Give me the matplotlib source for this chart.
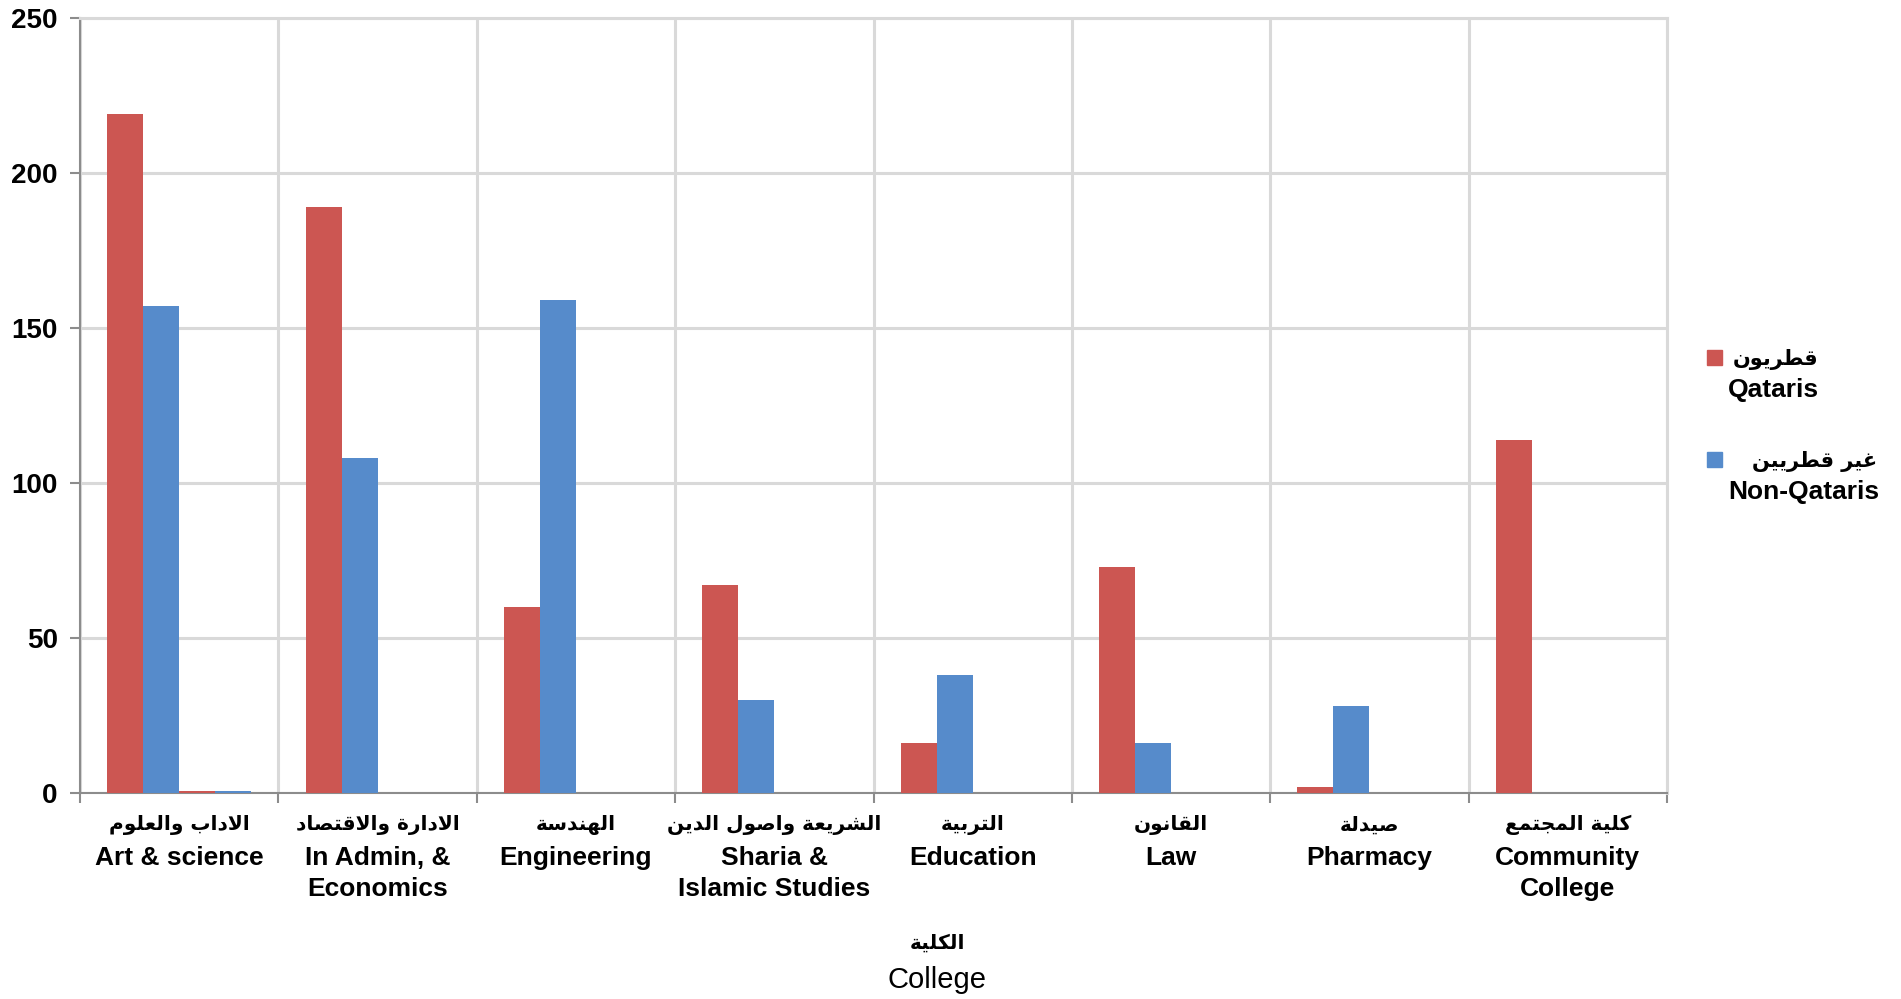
import numpy as np
import matplotlib
matplotlib.use("Agg")
import matplotlib.pyplot as plt
from matplotlib.patches import Rectangle

# data
colleges_ar = ["الاداب والعلوم", "الادارة والاقتصاد", "الهندسة", "الشريعة واصول الدين",
               "التربية", "القانون", "صيدلة", "كلية المجتمع"]
colleges_en = ["Art & science", "In Admin, &\nEconomics", "Engineering", "Sharia &\nIslamic Studies",
               "Education", "Law", "Pharmacy", "Community\nCollege"]
qataris = [219, 189, 60, 67, 16, 73, 2, 114]
non_qataris = [157, 108, 159, 30, 38, 16, 28, 0]
# two extra series that are not in the legend (almost empty)
extra_q = [0.5, 0, 0, 0, 0, 0, 0, 0]
extra_nq = [0.5, 0, 0, 0, 0, 0, 0, 0]
legend_ar = ["قطريون", "غير قطريين"]
legend_en = ["Qataris", "Non-Qataris"]
yticks = [0, 50, 100, 150, 200, 250]

RED = "#cc5652"
BLUE = "#568bcb"
GRID = "#d9d9d9"
AXIS = "#8c8c8c"

# matplotlib has no arabic shaping, so map letters to presentation forms by hand
# (isolated, final, initial, medial)
FORMS = {
    'ا': (0xFE8D, 0xFE8E, None, None),
    'ب': (0xFE8F, 0xFE90, 0xFE91, 0xFE92),
    'ة': (0xFE93, 0xFE94, None, None),
    'ت': (0xFE95, 0xFE96, 0xFE97, 0xFE98),
    'ج': (0xFE9D, 0xFE9E, 0xFE9F, 0xFEA0),
    'د': (0xFEA9, 0xFEAA, None, None),
    'ر': (0xFEAD, 0xFEAE, None, None),
    'س': (0xFEB1, 0xFEB2, 0xFEB3, 0xFEB4),
    'ش': (0xFEB5, 0xFEB6, 0xFEB7, 0xFEB8),
    'ص': (0xFEB9, 0xFEBA, 0xFEBB, 0xFEBC),
    'ط': (0xFEC1, 0xFEC2, 0xFEC3, 0xFEC4),
    'ع': (0xFEC9, 0xFECA, 0xFECB, 0xFECC),
    'غ': (0xFECD, 0xFECE, 0xFECF, 0xFED0),
    'ق': (0xFED5, 0xFED6, 0xFED7, 0xFED8),
    'ك': (0xFED9, 0xFEDA, 0xFEDB, 0xFEDC),
    'ل': (0xFEDD, 0xFEDE, 0xFEDF, 0xFEE0),
    'م': (0xFEE1, 0xFEE2, 0xFEE3, 0xFEE4),
    'ن': (0xFEE5, 0xFEE6, 0xFEE7, 0xFEE8),
    'ه': (0xFEE9, 0xFEEA, 0xFEEB, 0xFEEC),
    'و': (0xFEED, 0xFEEE, None, None),
    'ي': (0xFEF1, 0xFEF2, 0xFEF3, 0xFEF4),
}


def joins_next(c):
    return c in FORMS and FORMS[c][2] is not None


def shape(text):
    out = []
    n = len(text)
    i = 0
    while i < n:
        c = text[i]
        if c not in FORMS:
            out.append(c)
            i += 1
            continue
        link_prev = i > 0 and joins_next(text[i - 1])
        if c == 'ل' and i + 1 < n and text[i + 1] == 'ا':
            out.append(chr(0xFEFC if link_prev else 0xFEFB))
            i += 2
            continue
        link_next = joins_next(c) and i + 1 < n and text[i + 1] in FORMS
        iso, fin, ini, med = FORMS[c]
        if link_prev and link_next:
            g = med
        elif link_prev:
            g = fin
        elif link_next:
            g = ini
        else:
            g = iso
        out.append(chr(g))
        i += 1
    return "".join(reversed(out))


AR_FONT = ["DejaVu Sans"]
EN_FONT = ["Liberation Sans", "DejaVu Sans"]

W, H = 1901, 999
fig = plt.figure(figsize=(W / 100, H / 100), dpi=100)
ax = fig.add_axes([80 / W, 1 - 793 / H, (1667 - 80) / W, (793 - 18) / H])

x = np.arange(len(colleges_en))
w = 0.1815
ax.bar(x - 1.5 * w, qataris, w, color=RED, zorder=3)
ax.bar(x - 0.5 * w, non_qataris, w, color=BLUE, zorder=3)
ax.bar(x + 0.5 * w, extra_q, w, color=RED, zorder=3)
ax.bar(x + 1.5 * w, extra_nq, w, color=BLUE, zorder=3)

ax.set_xlim(-0.5, len(x) - 0.5)
ax.set_ylim(0, 250)
ax.set_yticks(yticks)
ax.set_yticklabels([str(v) for v in yticks], fontsize=20, fontweight="bold", family=EN_FONT)
ax.tick_params(axis="y", length=7, width=1.5, color=AXIS, pad=9)

# category boundaries carry the tick marks and vertical grid
ax.set_xticks(np.arange(-0.5, len(x)), minor=True)
ax.set_xticks([])
ax.tick_params(axis="x", which="minor", length=7, width=1.5, color=AXIS)
ax.grid(axis="y", color=GRID, linewidth=2.2, zorder=0)
ax.grid(axis="x", which="minor", color=GRID, linewidth=2.2, zorder=0)
ax.set_axisbelow(True)

for side in ["top", "right"]:
    ax.spines[side].set_color(GRID)
    ax.spines[side].set_linewidth(2.2)
for side in ["left", "bottom"]:
    ax.spines[side].set_color(AXIS)
    ax.spines[side].set_linewidth(1.5)

trans = ax.get_xaxis_transform()
ax_h = 793 - 18
for i in range(len(x)):
    ax.text(x[i], -(825 - 793) / ax_h, shape(colleges_ar[i]), transform=trans,
            ha="center", va="center", fontsize=14.5, fontweight="bold", family=AR_FONT)
    ax.text(x[i], -(846 - 793) / ax_h, colleges_en[i], transform=trans,
            ha="center", va="top", fontsize=19, fontweight="bold", family=EN_FONT,
            linespacing=1.35)

# axis title
fig.text(937 / W, 1 - 943 / H, shape("الكلية"), ha="center", va="center",
         fontsize=14.5, fontweight="bold", family=AR_FONT)
fig.text(937 / W, 1 - 980 / H, "College", ha="center", va="center",
         fontsize=21, family=EN_FONT)

# legend, drawn by hand so the square sits beside the arabic line
for k, (col, ar, en) in enumerate(zip([RED, BLUE], legend_ar, legend_en)):
    dy = k * 102
    fig.add_artist(Rectangle((1707 / W, 1 - (365 + dy) / H), 15 / W, 15 / H,
                             transform=fig.transFigure, color=col))
    fig.text(1728 / W, 1 - (390 + dy) / H, en, ha="left", va="center",
             fontsize=19, fontweight="bold", family=EN_FONT)
    right = [1818, 1877][k]
    fig.text(right / W, 1 - (360 + dy) / H, shape(ar), ha="right", va="center",
             fontsize=15, fontweight="bold", family=AR_FONT)

fig.savefig("out.png", dpi=100)
